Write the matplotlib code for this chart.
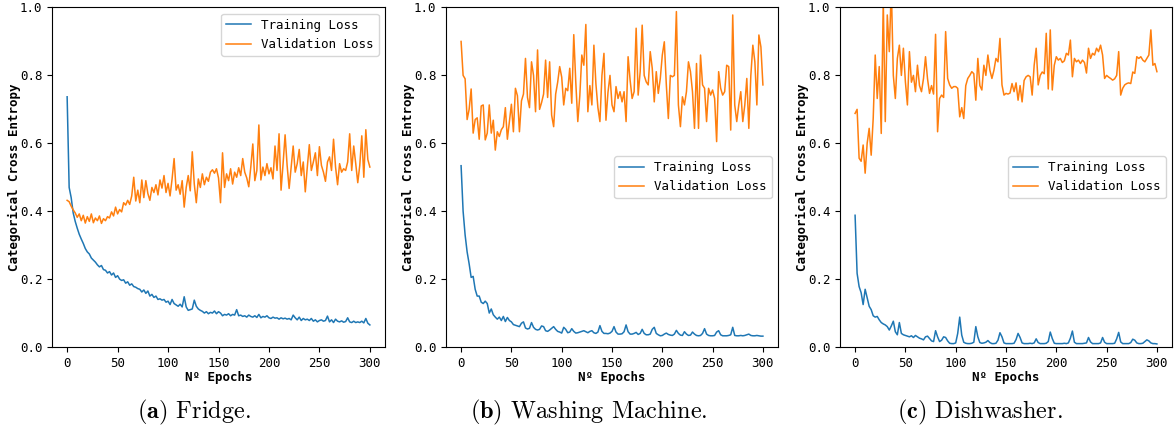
import numpy as np
import matplotlib
matplotlib.use("Agg")
import matplotlib.pyplot as plt

# ---------------------------------------------------------------- data
# Loss values recorded every second epoch (0, 2, ..., 300)
epochs = np.arange(0, 301, 2)

fridge_train = [
    0.737, 0.470, 0.440, 0.395, 0.370, 0.350, 0.332, 0.318, 0.305, 0.290,
    0.280, 0.274, 0.262, 0.256, 0.250, 0.242, 0.236, 0.240, 0.228, 0.226,
    0.218, 0.222, 0.212, 0.218, 0.205, 0.210, 0.200, 0.196, 0.198, 0.188,
    0.192, 0.182, 0.186, 0.178, 0.176, 0.172, 0.170, 0.162, 0.168, 0.158,
    0.165, 0.150, 0.155, 0.146, 0.150, 0.140, 0.142, 0.138, 0.140, 0.132,
    0.135, 0.125, 0.140, 0.128, 0.124, 0.120, 0.126, 0.118, 0.148, 0.118,
    0.108, 0.110, 0.112, 0.138, 0.120, 0.112, 0.108, 0.105, 0.100, 0.104,
    0.098, 0.102, 0.100, 0.106, 0.098, 0.104, 0.100, 0.092, 0.096, 0.094,
    0.098, 0.092, 0.096, 0.094, 0.110, 0.092, 0.094, 0.090, 0.092, 0.088,
    0.094, 0.090, 0.088, 0.092, 0.087, 0.096, 0.086, 0.090, 0.088, 0.092,
    0.086, 0.084, 0.088, 0.085, 0.086, 0.082, 0.086, 0.083, 0.085, 0.082,
    0.084, 0.080, 0.094, 0.086, 0.080, 0.088, 0.078, 0.084, 0.080, 0.082,
    0.078, 0.084, 0.076, 0.080, 0.074, 0.078, 0.080, 0.076, 0.078, 0.091,
    0.074, 0.080, 0.072, 0.082, 0.076, 0.074, 0.077, 0.073, 0.075, 0.086,
    0.074, 0.072, 0.076, 0.072, 0.074, 0.072, 0.076, 0.071, 0.084, 0.070,
    0.065,
]
fridge_val = [
    0.432, 0.428, 0.415, 0.404, 0.395, 0.382, 0.392, 0.372, 0.388, 0.365,
    0.384, 0.370, 0.392, 0.366, 0.380, 0.372, 0.386, 0.364, 0.378, 0.372,
    0.384, 0.380, 0.398, 0.386, 0.412, 0.392, 0.405, 0.398, 0.425, 0.418,
    0.432, 0.420, 0.445, 0.500, 0.430, 0.462, 0.425, 0.492, 0.440, 0.490,
    0.452, 0.432, 0.470, 0.455, 0.478, 0.448, 0.492, 0.468, 0.505, 0.455,
    0.482, 0.445, 0.495, 0.555, 0.462, 0.478, 0.450, 0.490, 0.412, 0.470,
    0.505, 0.460, 0.575, 0.480, 0.425, 0.495, 0.470, 0.510, 0.478, 0.500,
    0.488, 0.515, 0.522, 0.512, 0.525, 0.498, 0.425, 0.572, 0.470, 0.510,
    0.490, 0.525, 0.480, 0.515, 0.500, 0.528, 0.505, 0.555, 0.515, 0.498,
    0.472, 0.530, 0.598, 0.490, 0.520, 0.654, 0.492, 0.530, 0.505, 0.540,
    0.510, 0.528, 0.495, 0.592, 0.520, 0.628, 0.462, 0.540, 0.625, 0.535,
    0.467, 0.530, 0.592, 0.515, 0.540, 0.582, 0.505, 0.545, 0.457, 0.530,
    0.596, 0.520, 0.545, 0.572, 0.505, 0.590, 0.535, 0.515, 0.488, 0.545,
    0.560, 0.520, 0.612, 0.530, 0.478, 0.540, 0.515, 0.525, 0.520, 0.545,
    0.628, 0.520, 0.592, 0.540, 0.484, 0.535, 0.622, 0.500, 0.640, 0.552,
    0.530,
]

washer_train = [
    0.534, 0.400, 0.330, 0.280, 0.245, 0.205, 0.208, 0.170, 0.150, 0.150,
    0.132, 0.128, 0.135, 0.128, 0.100, 0.112, 0.095, 0.088, 0.082, 0.088,
    0.078, 0.090, 0.075, 0.087, 0.078, 0.074, 0.066, 0.064, 0.062, 0.060,
    0.070, 0.074, 0.056, 0.053, 0.055, 0.072, 0.058, 0.052, 0.050, 0.052,
    0.062, 0.060, 0.048, 0.046, 0.050, 0.055, 0.060, 0.052, 0.046, 0.044,
    0.041, 0.058, 0.052, 0.042, 0.044, 0.054, 0.046, 0.041, 0.042, 0.044,
    0.046, 0.048, 0.045, 0.042, 0.046, 0.048, 0.042, 0.040, 0.044, 0.063,
    0.046, 0.040, 0.040, 0.039, 0.041, 0.046, 0.060, 0.044, 0.038, 0.038,
    0.039, 0.045, 0.065, 0.045, 0.038, 0.038, 0.040, 0.043, 0.037, 0.040,
    0.052, 0.040, 0.036, 0.036, 0.038, 0.052, 0.058, 0.040, 0.036, 0.033,
    0.034, 0.038, 0.041, 0.037, 0.035, 0.034, 0.038, 0.049, 0.040, 0.035,
    0.034, 0.045, 0.038, 0.034, 0.035, 0.044, 0.038, 0.034, 0.033, 0.034,
    0.040, 0.054, 0.038, 0.034, 0.033, 0.033, 0.034, 0.044, 0.048, 0.036,
    0.033, 0.033, 0.033, 0.034, 0.036, 0.058, 0.034, 0.033, 0.033, 0.034,
    0.033, 0.034, 0.036, 0.038, 0.034, 0.033, 0.033, 0.034, 0.033, 0.032,
    0.032,
]
washer_val = [
    0.900, 0.800, 0.790, 0.670, 0.700, 0.760, 0.630, 0.670, 0.675, 0.612,
    0.710, 0.713, 0.610, 0.630, 0.713, 0.630, 0.668, 0.580, 0.634, 0.620,
    0.640, 0.649, 0.705, 0.612, 0.664, 0.715, 0.634, 0.762, 0.740, 0.634,
    0.725, 0.745, 0.850, 0.735, 0.705, 0.840, 0.800, 0.693, 0.875, 0.700,
    0.720, 0.745, 0.845, 0.735, 0.840, 0.683, 0.649, 0.745, 0.780, 0.826,
    0.795, 0.713, 0.762, 0.755, 0.821, 0.718, 0.920, 0.780, 0.664, 0.740,
    0.860, 0.830, 0.950, 0.693, 0.770, 0.713, 0.889, 0.775, 0.705, 0.664,
    0.800, 0.865, 0.668, 0.750, 0.800, 0.713, 0.693, 0.767, 0.732, 0.752,
    0.722, 0.752, 0.664, 0.855, 0.786, 0.732, 0.752, 0.939, 0.742, 0.811,
    0.948, 0.800, 0.781, 0.772, 0.870, 0.821, 0.722, 0.811, 0.747, 0.791,
    0.860, 0.899, 0.772, 0.673, 0.800, 0.796, 0.800, 0.988, 0.713, 0.649,
    0.737, 0.713, 0.752, 0.840, 0.811, 0.752, 0.644, 0.835, 0.644, 0.860,
    0.772, 0.762, 0.664, 0.762, 0.742, 0.757, 0.732, 0.605, 0.811, 0.762,
    0.742, 0.752, 0.830, 0.826, 0.639, 0.978, 0.713, 0.664, 0.713, 0.752,
    0.664, 0.713, 0.791, 0.644, 0.800, 0.889, 0.840, 0.713, 0.919, 0.884,
    0.772,
]

dish_train = [
    0.388, 0.217, 0.178, 0.160, 0.125, 0.170, 0.145, 0.120, 0.110, 0.092,
    0.088, 0.090, 0.080, 0.072, 0.068, 0.065, 0.060, 0.050, 0.062, 0.076,
    0.045, 0.036, 0.072, 0.040, 0.036, 0.034, 0.032, 0.030, 0.033, 0.028,
    0.034, 0.030, 0.026, 0.024, 0.021, 0.030, 0.032, 0.025, 0.018, 0.016,
    0.048, 0.030, 0.016, 0.020, 0.030, 0.028, 0.018, 0.011, 0.010, 0.010,
    0.012, 0.040, 0.088, 0.035, 0.014, 0.011, 0.010, 0.010, 0.011, 0.014,
    0.060, 0.030, 0.013, 0.011, 0.012, 0.014, 0.019, 0.013, 0.010, 0.010,
    0.011, 0.020, 0.042, 0.030, 0.012, 0.010, 0.010, 0.010, 0.010, 0.011,
    0.022, 0.040, 0.028, 0.012, 0.010, 0.010, 0.010, 0.011, 0.010, 0.012,
    0.024, 0.013, 0.010, 0.010, 0.010, 0.011, 0.016, 0.044, 0.025, 0.011,
    0.010, 0.010, 0.010, 0.010, 0.011, 0.010, 0.012, 0.026, 0.047, 0.014,
    0.010, 0.010, 0.010, 0.010, 0.011, 0.012, 0.028, 0.015, 0.010, 0.010,
    0.010, 0.010, 0.012, 0.028, 0.014, 0.010, 0.010, 0.010, 0.010, 0.011,
    0.024, 0.043, 0.015, 0.010, 0.010, 0.010, 0.010, 0.013, 0.023, 0.020,
    0.012, 0.010, 0.010, 0.011, 0.016, 0.021, 0.018, 0.012, 0.010, 0.010,
    0.009,
]
dish_val = [
    0.688, 0.700, 0.556, 0.547, 0.595, 0.512, 0.600, 0.644, 0.565, 0.673,
    0.860, 0.732, 0.826, 0.629, 1.020, 0.664, 0.978, 0.870, 1.060, 0.800,
    0.732, 0.850, 0.889, 0.800, 0.880, 0.781, 0.713, 0.870, 0.780, 0.800,
    0.752, 0.830, 0.770, 0.752, 0.791, 0.855, 0.790, 0.747, 0.770, 0.745,
    0.921, 0.634, 0.732, 0.742, 0.735, 0.929, 0.791, 0.772, 0.762, 0.767,
    0.767, 0.762, 0.678, 0.705, 0.673, 0.770, 0.791, 0.800, 0.811, 0.805,
    0.727, 0.850, 0.770, 0.757, 0.830, 0.800, 0.860, 0.815, 0.791, 0.815,
    0.850, 0.840, 0.909, 0.772, 0.742, 0.747, 0.745, 0.748, 0.776, 0.752,
    0.778, 0.727, 0.770, 0.722, 0.785, 0.796, 0.800, 0.796, 0.742, 0.830,
    0.880, 0.772, 0.800, 0.810, 0.805, 0.924, 0.760, 0.934, 0.757, 0.830,
    0.855, 0.845, 0.850, 0.838, 0.843, 0.865, 0.860, 0.904, 0.796, 0.850,
    0.840, 0.845, 0.835, 0.845, 0.838, 0.807, 0.880, 0.850, 0.865, 0.860,
    0.880, 0.870, 0.889, 0.860, 0.791, 0.800, 0.795, 0.791, 0.786, 0.790,
    0.800, 0.870, 0.742, 0.762, 0.772, 0.776, 0.778, 0.776, 0.810, 0.806,
    0.855, 0.850, 0.855, 0.845, 0.840, 0.850, 0.860, 0.934, 0.830, 0.835,
    0.811,
]

panels = [
    ("a", "Fridge.", fridge_train, fridge_val, "upper right"),
    ("b", "Washing Machine.", washer_train, washer_val, "center right"),
    ("c", "Dishwasher.", dish_train, dish_val, "center right"),
]

x_ticks = [0, 50, 100, 150, 200, 250, 300]
y_ticks = [0.0, 0.2, 0.4, 0.6, 0.8, 1.0]

# ---------------------------------------------------------------- style
plt.rcParams["font.family"] = "DejaVu Sans Mono"
plt.rcParams["font.size"] = 9
plt.rcParams["mathtext.fontset"] = "cm"

W, H = 1176, 430
fig = plt.figure(figsize=(W / 100, H / 100), dpi=100)

# axes extents in pixels: (left, right); shared top/bottom
axes_px = [(52, 385), (446, 778), (840, 1172)]
caption_cx = [194, 589, 980]
top_px, bottom_px = 7.5, 347

for (tag, name, train, val, loc), (l, r), cx in zip(panels, axes_px, caption_cx):
    assert len(train) == len(epochs) and len(val) == len(epochs)
    ax = fig.add_axes([l / W, (H - bottom_px) / H, (r - l) / W,
                       (bottom_px - top_px) / H])
    ax.plot(epochs, train, color="#1f77b4", lw=1.1, label="Training Loss")
    ax.plot(epochs, val, color="#ff7f0e", lw=1.1, label="Validation Loss")
    ax.set_xlim(-15, 315)
    ax.set_ylim(0, 1)
    ax.set_xticks(x_ticks)
    ax.set_yticks(y_ticks)
    ax.set_xlabel("Nº Epochs", fontweight="bold", labelpad=1)
    ax.set_ylabel("Categorical Cross Entropy", fontweight="bold", labelpad=-1)
    ax.legend(loc=loc)

    fig.text(cx / W, 12 / H, r"$\mathbf{(%s)}$ %s" % (tag, name),
             ha="center", va="baseline", fontsize=17.5, family="cmr10")

fig.savefig("out.png", dpi=100)
